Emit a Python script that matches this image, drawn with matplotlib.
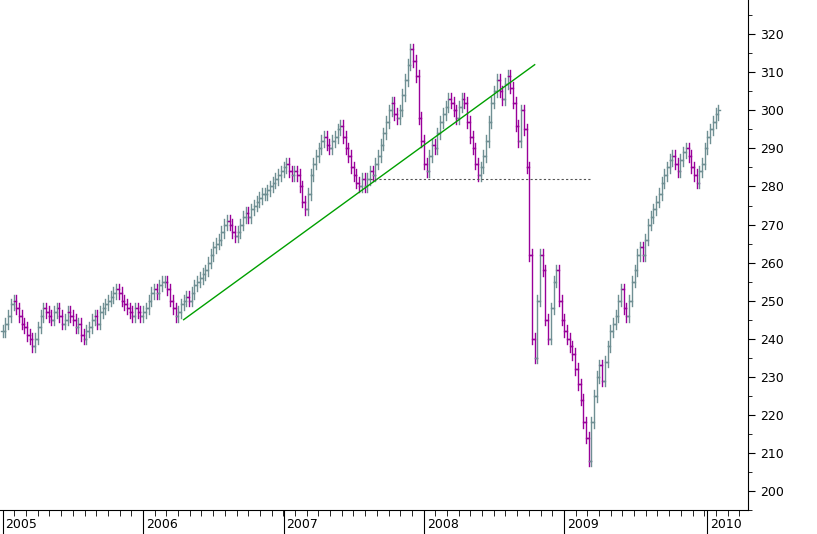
import matplotlib
matplotlib.use("Agg")
import matplotlib.pyplot as plt
import numpy as np

years = ["2005", "2006", "2007", "2008", "2009", "2010"]
year_start_week = [0, 52, 104, 156, 208, 261]
closes = [
 242,244,246,249,250,248,246,244,243,241,240,238,240,243,246,248,247,246,245,247,248,246,244,245,247,246,245,243,244,241,240,242,243,245,246,244,247,248,249,250,251,252,253,252,250,249,248,247,246,248,247,246,
 247,248,250,252,253,252,254,255,255,253,250,248,246,247,249,250,251,250,252,254,255,256,257,258,260,262,264,265,266,268,270,271,270,268,267,268,270,272,273,272,274,275,276,277,278,278,279,280,281,282,283,284,
 285,286,284,283,284,283,280,276,274,278,283,286,288,290,292,293,291,290,292,293,295,296,293,290,288,285,283,281,280,282,280,282,284,283,286,288,291,294,297,300,302,299,298,300,304,308,312,316,313,309,298,292,
 286,284,288,291,290,294,297,299,301,303,302,300,298,301,303,302,297,293,290,286,283,285,288,292,297,302,305,308,305,303,307,309,306,302,296,292,300,295,285,262,240,235,250,262,258,245,240,248,255,258,250,245,
 242,240,238,236,232,228,224,218,214,208,218,225,230,233,229,234,238,242,244,246,250,253,248,246,250,255,258,262,264,262,266,270,272,274,276,278,281,283,285,287,288,286,284,287,289,290,288,285,283,281,284,286,
 290,293,295,297,299,300]
trend_week = [67, 197]
trend_value = [245, 312]
support_week = [136, 218]
support_value = [282, 282]

fig = plt.figure(figsize=(8.17, 5.34), dpi=100)
ax = fig.add_axes([0, 24/534, 748/817, 510/534])
c = np.array(closes, float)
o = np.r_[c[0], c[:-1]]
up_col, dn_col = "#6f8f93", "#990099"
for i, (op, cl) in enumerate(zip(o, c)):
    col = up_col if cl >= op else dn_col
    lo, hi = min(op, cl) - 1.5, max(op, cl) + 1.5
    ax.plot([i, i], [lo, hi], color=col, lw=1)
    ax.plot([i - 0.7, i], [op, op], color=col, lw=1)
    ax.plot([i, i + 0.7], [cl, cl], color=col, lw=1)
ax.plot(trend_week, trend_value, color="#00a000", lw=1)
ax.plot(support_week, support_value, color="#555555", lw=0.8, ls=(0, (2, 2)))
ax.set_xlim(-1, 276)
ax.set_ylim(195, 329)
ax.yaxis.tick_right()
ax.set_yticks(range(200, 321, 10))
ax.set_yticks(range(195, 329, 5), minor=True)
ax.tick_params(axis="y", labelsize=9, length=5, direction="out")
ax.tick_params(axis="y", which="minor", length=3)
for s in ["top", "left"]:
    ax.spines[s].set_visible(False)
ax.set_xticks(year_start_week)
ax.set_xticklabels([])
ax.set_xticks(np.arange(0, 276, 4.33), minor=True)
ax.tick_params(axis="x", which="minor", length=4, direction="out")
ax.tick_params(axis="x", which="major", length=20, direction="out")
for w, y in zip(year_start_week, years):
    ax.text(w + 1, -0.015, y, transform=ax.get_xaxis_transform(), ha="left", va="top", fontsize=9)
fig.savefig("out.png")
